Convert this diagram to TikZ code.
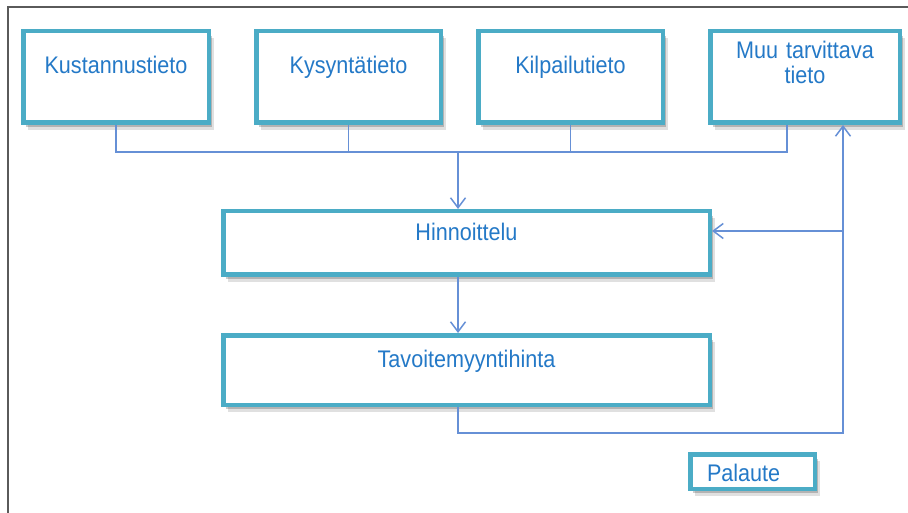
\documentclass[tikz,border=0pt]{standalone}
\usepackage{fontspec}
\newfontfamily\boxfont[FakeStretch=0.9]{Liberation Sans}
\usetikzlibrary{arrows.meta,shadows}
\definecolor{DiagramTeal}{HTML}{4BACC6}
\definecolor{DiagramLine}{HTML}{6690D6}
\definecolor{DiagramText}{HTML}{2479C7}
\definecolor{DiagramFrame}{HTML}{5A5A5A}
\tikzset{
  infobox/.style={draw=DiagramTeal,line width=4.5pt,fill=white,inner xsep=0pt,inner ysep=0pt,
    align=center,text=DiagramText,font=\boxfont\fontsize{24}{25}\selectfont,anchor=north west,
    drop shadow={shadow xshift=5pt,shadow yshift=-7pt,opacity=.12,fill=black},
    drop shadow={shadow xshift=3pt,shadow yshift=-4.5pt,opacity=.2,fill=black}},
  flowline/.style={line width=1.5pt,draw=DiagramLine},
  flowarrow/.style={flowline,-{Straight Barb[length=10pt,width=15pt,line width=1.5pt]}}
}

\begin{document}
\begin{tikzpicture}[x=1pt,y=-1pt]
  \useasboundingbox (0,0) rectangle (908,513);
  % frame of the cut-out
  \draw[DiagramFrame,line width=2pt] (7.5,513) -- (7.5,7.5) -- (908,7.5);

  % information sources
  \node[infobox,text width=185.5pt,text height=42.75pt,text depth=48.75pt] (kustannus) at (21,29) {Kustannustieto};
  \node[infobox,text width=184.5pt,text height=42.75pt,text depth=48.75pt] (kysynta) at (254,29) {Kysyntätieto};
  \node[infobox,text width=184.5pt,text height=42.75pt,text depth=48.75pt] (kilpailu) at (476,29) {Kilpailutieto};
  \node[infobox,text width=189.5pt,text height=27.75pt,text depth=63.75pt] (muu) at (708,29) {Muu tarvittava\\tieto};

  % pricing and result
  \node[infobox,text width=486.5pt,text height=29.75pt,text depth=33.75pt] (hinnoittelu) at (221,209) {Hinnoittelu};
  \node[infobox,text width=486.5pt,text height=31.75pt,text depth=37.75pt] (tavoite) at (221,333) {Tavoitemyyntihinta};
  \node[infobox,align=left,inner xsep=16.75pt,text width=91pt,text height=26.75pt,text depth=7.75pt] (palaute) at (688,452) {Palaute};

  % connectors
  \coordinate (merge) at (458,152);
  \foreach \src in {kustannus,kysynta,kilpailu}
    \draw[flowline] (\src.south) |- (merge);
  \draw[flowline] ([xshift=-18pt]muu.south) |- (merge);
  \draw[flowarrow] (merge) -- (merge |- hinnoittelu.north);
  \draw[flowarrow] (merge |- hinnoittelu.south) -- (merge |- tavoite.north);

  % feedback loop
  \coordinate (loopcorner) at (843,433);
  \coordinate (looptap) at (843,231);
  \draw[flowarrow] (merge |- tavoite.south) |- (loopcorner) -- (loopcorner |- muu.south);
  \draw[flowarrow] (looptap) -- (looptap -| hinnoittelu.east);
\end{tikzpicture}
\end{document}
